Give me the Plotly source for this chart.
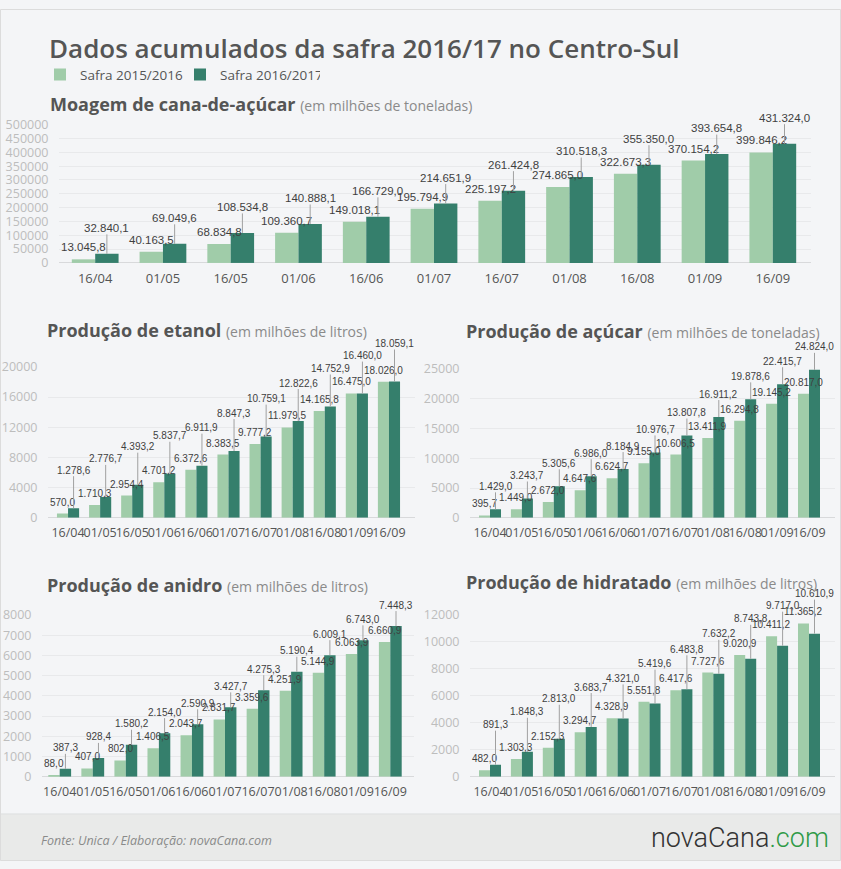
import plotly.graph_objects as go

# ---------------- data ----------------
datas = ["16/04", "01/05", "16/05", "01/06", "16/06", "01/07", "16/07", "01/08", "16/08", "01/09", "16/09"]
series_names = ["Safra 2015/2016", "Safra 2016/2017"]

moagem_1516 = [13045.8, 40163.5, 68834.8, 109360.7, 149018.1, 195794.9, 225197.2, 274865.0, 322673.3, 370154.2, 399846.2]
moagem_1617 = [32840.1, 69049.6, 108534.8, 140888.1, 166729.0, 214651.9, 261424.8, 310518.3, 355350.0, 393654.8, 431324.0]

etanol_1516 = [570.0, 1710.3, 2954.4, 4701.2, 6372.6, 8383.5, 9777.2, 11979.5, 14165.8, 16475.0, 18026.0]
etanol_1617 = [1278.6, 2776.7, 4393.2, 5837.7, 6911.9, 8847.3, 10759.1, 12822.6, 14752.9, 16460.0, 18059.1]

acucar_1516 = [395.7, 1449.0, 2672.0, 4647.6, 6624.7, 9155.0, 10606.5, 13411.9, 16294.8, 19145.2, 20817.0]
acucar_1617 = [1429.0, 3243.7, 5305.6, 6986.0, 8184.9, 10976.7, 13807.8, 16911.2, 19878.6, 22415.7, 24824.0]

anidro_1516 = [88.0, 407.0, 802.0, 1406.5, 2043.7, 2831.7, 3359.6, 4251.9, 5144.9, 6063.9, 6660.9]
anidro_1617 = [387.3, 928.4, 1580.2, 2154.0, 2590.9, 3427.7, 4275.3, 5190.4, 6009.1, 6743.0, 7448.3]

hidratado_1516 = [482.0, 1303.3, 2152.3, 3294.7, 4328.9, 5551.8, 6417.6, 7727.6, 9020.9, 10411.2, 11365.2]
hidratado_1617 = [891.3, 1848.3, 2813.0, 3683.7, 4321.0, 5419.6, 6483.8, 7632.2, 8743.8, 9717.0, 10610.9]

titles = ["Moagem de cana-de-açúcar", "Produção de etanol", "Produção de açúcar",
          "Produção de anidro", "Produção de hidratado"]
units = ["(em milhões de toneladas)", "(em milhões de litros)", "(em milhões de toneladas)",
         "(em milhões de litros)", "(em milhões de litros)"]

# ---------------- style ----------------
W, H = 841, 869
BG = "#f4f5f7"
LIGHT = "#a0cca9"
DARK = "#357f6c"
FONT = "Open Sans"
LABEL_FONT = "Liberation Sans"
BARGAP = 0.31


def fx(p):
    return p / W


def fy(p):
    return 1 - p / H


def br(v):
    s = f"{v:,.1f}"
    return s.replace(",", "_").replace(".", ",").replace("_", ".")


charts = [
    dict(prev=moagem_1516, curr=moagem_1617, xd=(59, 811), yd=(118, 259), rng=500000, dtick=50000,
         lab=11.5, off=26, xfont=13, title_xy=(48, 97)),
    dict(prev=etanol_1516, curr=etanol_1617, xd=(48, 415), yd=(365, 519), rng=20000, dtick=4000,
         lab=10, off=38, xfont=12.5, title_xy=(45, 327)),
    dict(prev=acucar_1516, curr=acucar_1617, xd=(470, 835), yd=(367, 519), rng=25000, dtick=5000,
         lab=10, off=23, xfont=12.5, title_xy=(464, 328)),
    dict(prev=anidro_1516, curr=anidro_1617, xd=(42, 414), yd=(618, 783), rng=8000, dtick=1000,
         lab=10, off=21, xfont=12.5, title_xy=(45, 588)),
    dict(prev=hidratado_1516, curr=hidratado_1617, xd=(470, 835), yd=(618, 783), rng=12000, dtick=2000,
         lab=10, off=40, xfont=12.5, title_xy=(464, 584)),
]

fig = go.Figure()
annotations = []
layout = {}

half = (1 - BARGAP) / 4  # center offset of each bar inside the group

for k, c in enumerate(charts, start=1):
    xa = "x" if k == 1 else f"x{k}"
    ya = "y" if k == 1 else f"y{k}"
    xkey = "xaxis" if k == 1 else f"xaxis{k}"
    ykey = "yaxis" if k == 1 else f"yaxis{k}"

    fig.add_trace(go.Bar(x=datas, y=c["prev"], name=series_names[0], marker_color=LIGHT,
                         marker_line_width=0, xaxis=xa, yaxis=ya, showlegend=(k == 1),
                         legendgroup="a", hoverinfo="skip"))
    fig.add_trace(go.Bar(x=datas, y=c["curr"], name=series_names[1], marker_color=DARK,
                         marker_line_width=0, xaxis=xa, yaxis=ya, showlegend=(k == 1),
                         legendgroup="b", hoverinfo="skip"))

    layout[xkey] = dict(domain=[fx(c["xd"][0]), fx(c["xd"][1])], anchor=ya, type="category",
                        showgrid=False, showline=False, zeroline=False, tickangle=0,
                        ticks="outside", ticklen=3, tickcolor="rgba(0,0,0,0)",
                        tickfont=dict(family=FONT, size=c["xfont"], color="#555555"), fixedrange=True)
    layout[ykey] = dict(domain=[fy(c["yd"][1]), fy(c["yd"][0])], anchor=xa,
                        range=[0, c["rng"]], dtick=c["dtick"], tickformat="d",
                        showgrid=True, gridcolor="#e8e9eb", gridwidth=1,
                        zeroline=True, zerolinecolor="#d8d9db", zerolinewidth=1,
                        showline=False, ticks="outside", ticklen=7, tickcolor="rgba(0,0,0,0)",
                        tickfont=dict(family=FONT, size=12.5, color="#bdbdbd"), fixedrange=True)

    for i in range(len(datas)):
        v0 = c["prev"][i]
        v1 = c["curr"][i]
        annotations.append(dict(x=i - half, y=v0, xref=xa, yref=ya, text=br(v0), showarrow=False,
                                yanchor="bottom", yshift=4,
                                font=dict(family=LABEL_FONT, size=c["lab"], color="#3f3f3f")))
        annotations.append(dict(x=i + half, y=v1, xref=xa, yref=ya, text=br(v1), showarrow=True,
                                arrowhead=0, arrowwidth=1, arrowcolor="#a0a0a0", ax=0, ay=-c["off"],
                                standoff=0, startstandoff=0, borderpad=0,
                                font=dict(family=LABEL_FONT, size=c["lab"], color="#3f3f3f")))

    # section title
    annotations.append(dict(
        x=fx(c["title_xy"][0]), y=fy(c["title_xy"][1]), xref="paper", yref="paper",
        xanchor="left", yanchor="middle", showarrow=False,
        text=f"<b>{titles[k-1]}</b> <span style='font-size:14px;color:#8a8a8a'>{units[k-1]}</span>",
        font=dict(family=FONT, size=18, color="#555555")))

# main title
annotations.append(dict(x=fx(47), y=fy(40), xref="paper", yref="paper", xanchor="left", yanchor="middle",
                        showarrow=False, text="Dados acumulados da safra 2016/17 no Centro-Sul",
                        font=dict(family=FONT, size=26, color="#555555", weight=600)))

# footer
annotations.append(dict(x=fx(39), y=fy(848), xref="paper", yref="paper", xanchor="left", yanchor="middle",
                        showarrow=False, text="<i>Fonte: Unica / Elaboração: novaCana.com</i>",
                        font=dict(family=FONT, size=12.5, color="#8a8a8a")))
annotations.append(dict(x=fx(831), y=fy(846), xref="paper", yref="paper", xanchor="right", yanchor="middle",
                        showarrow=False,
                        text="novaCana<span style='color:#2f9a47'>.com</span>",
                        font=dict(family="Roboto", size=27, color="#333333", weight=300)))

shapes = [
    dict(type="rect", xref="paper", yref="paper", x0=0, x1=1, y0=0, y1=fy(821),
         fillcolor="#e9eae9", line=dict(width=0), layer="below"),
    dict(type="line", xref="paper", yref="paper", x0=0, x1=1, y0=fy(821), y1=fy(821),
         line=dict(color="#dedfdf", width=1), layer="below"),
    dict(type="rect", xref="paper", yref="paper", x0=fx(0.5), x1=fx(840.5), y0=fy(868.5), y1=fy(0.5),
         fillcolor="rgba(0,0,0,0)", line=dict(color="#dcdcdc", width=1), layer="above"),
]

fig.update_layout(
    width=W, height=H,
    margin=dict(l=0, r=0, t=0, b=0),
    paper_bgcolor=BG, plot_bgcolor="rgba(0,0,0,0)",
    barmode="group", bargap=BARGAP, bargroupgap=0,
    font=dict(family=FONT, color="#555555"),
    showlegend=True,
    legend=dict(orientation="h", x=fx(40), y=fy(67), xanchor="left", yanchor="middle",
                bgcolor="rgba(0,0,0,0)", font=dict(family=FONT, size=13.5, color="#555555"),
                itemwidth=30, entrywidth=95, traceorder="normal"),
    annotations=annotations,
    shapes=shapes,
    **layout,
)

page_js = ("document.documentElement.style.margin='0';document.documentElement.style.padding='0';"
           "document.documentElement.style.background='#f4f5f7';"
           "document.body.style.margin='0';document.body.style.padding='0';"
           "document.body.style.background='#f4f5f7';document.body.style.overflow='hidden';")

fig.write_html("out.html", config={"displayModeBar": False}, post_script=page_js)
